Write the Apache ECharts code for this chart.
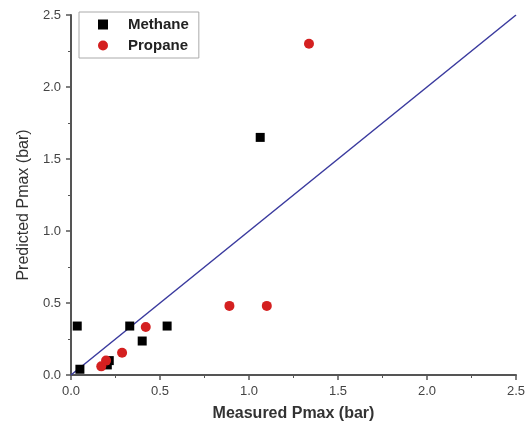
<!DOCTYPE html>
<html>
<head>
<meta charset="utf-8">
<script src="https://cdn.jsdelivr.net/npm/echarts@6/dist/echarts.min.js"></script>
<style>
  html, body { margin: 0; padding: 0; background: #fff; }
  #chart { width: 529px; height: 433px; }
</style>
</head>
<body>
<div id="chart"></div>
<script>
// measured vs predicted Pmax (bar)
var methane = [
  [0.035, 0.34], [0.05, 0.04], [0.204, 0.07], [0.215, 0.10],
  [0.33, 0.34], [0.40, 0.236], [0.54, 0.34], [1.063, 1.65]
];
var propane = [
  [0.17, 0.06], [0.197, 0.10], [0.287, 0.155], [0.42, 0.333],
  [0.89, 0.48], [1.10, 0.48], [1.337, 2.30]
];
var parityLine = [[0, 0], [2.5, 2.5]];
var seriesNames = ["Methane", "Propane"];

var font = "Liberation Sans, Arial, sans-serif";

var axisCommon = {
  type: "value",
  min: 0,
  max: 2.5,
  interval: 0.5,
  nameLocation: "middle",
  nameTextStyle: { fontFamily: font, fontSize: 16, color: "#333" },
  axisLine: { show: true, lineStyle: { color: "#555", width: 2 } },
  axisTick: { show: true, inside: false, length: 5, lineStyle: { color: "#555", width: 1.5 } },
  minorTick: { show: true, splitNumber: 2, length: 3, lineStyle: { color: "#555", width: 1 } },
  splitLine: { show: false },
  axisLabel: {
    fontFamily: font,
    fontSize: 13,
    color: "#444",
    margin: 10,
    formatter: function (v) { return v.toFixed(1); }
  }
};

var myChart = echarts.init(document.getElementById("chart"));

var option = {
  animation: false,
  grid: { left: 71, right: 13, top: 15, bottom: 58 },
  legend: {
    data: seriesNames,
    orient: "vertical",
    left: 79,
    top: 12,
    padding: [5, 10, 5, 19],
    itemGap: 6,
    itemWidth: 10,
    itemHeight: 10,
    borderColor: "#aaa",
    borderWidth: 1,
    textStyle: { fontFamily: font, fontSize: 15, fontWeight: 600, color: "#222", padding: [0, 0, 0, 15] }
  },
  xAxis: Object.assign({}, axisCommon, {
    name: "Measured Pmax (bar)",
    nameGap: 31,
    nameTextStyle: Object.assign({}, axisCommon.nameTextStyle, { fontWeight: 600 })
  }),
  yAxis: Object.assign({}, axisCommon, {
    name: "Predicted Pmax (bar)",
    nameGap: 38,
    nameTextStyle: Object.assign({}, axisCommon.nameTextStyle, { padding: [0, 20, 0, 0] })
  }),
  series: [
    {
      name: "fit",
      type: "line",
      data: parityLine,
      showSymbol: false,
      lineStyle: { color: "#3a3a9e", width: 1.5 },
      z: 1
    },
    {
      name: seriesNames[0],
      type: "scatter",
      symbol: "rect",
      symbolSize: 9,
      itemStyle: { color: "#000", opacity: 1 },
      data: methane,
      z: 3
    },
    {
      name: seriesNames[1],
      type: "scatter",
      symbol: "circle",
      symbolSize: 10,
      itemStyle: { color: "#d42020", opacity: 1 },
      data: propane,
      z: 3
    }
  ]
};

myChart.setOption(option);
</script>
</body>
</html>
